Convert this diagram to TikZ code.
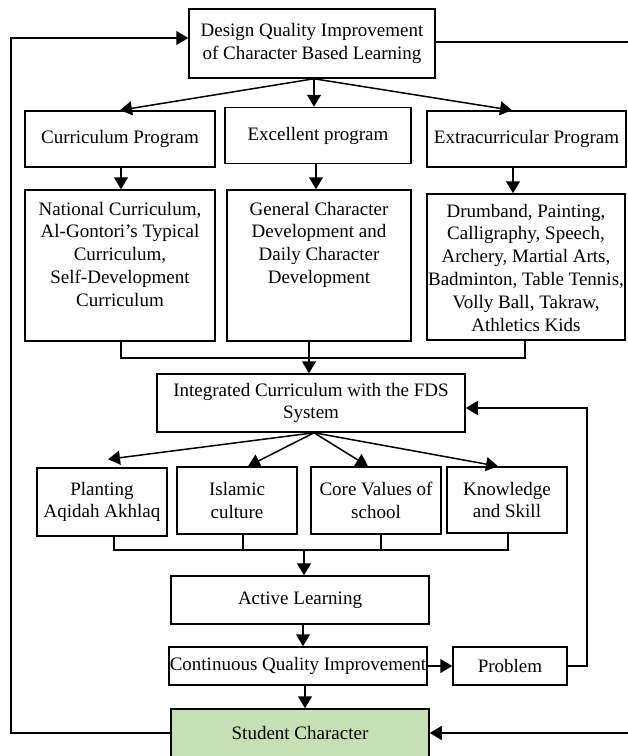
\documentclass[tikz,border=0pt]{standalone}
\usepackage{fontspec}
\setmainfont{Liberation Serif}
\usepackage{xcolor}
\usetikzlibrary{arrows.meta,positioning,calc}
\definecolor{leafgreen}{RGB}{197,224,180}

\begin{document}
\begin{tikzpicture}[
    x=1pt, y=-1pt,
    font=\fontsize{19pt}{22.8pt}\selectfont,
    >={Triangle[length=12pt,width=14pt]},
    line width=1.5pt,
    box/.style={
        draw=black,
        align=center,
        inner sep=0pt
    },
    topbox/.style={
        box,
        minimum width=246pt,
        minimum height=69pt
    },
    progbox/.style={
        box,
        minimum width=190pt,
        minimum height=56pt
    },
    valbox/.style={
        box,
        minimum width=125pt,
        minimum height=67pt
    },
    flowbox/.style={
        box,
        minimum width=258pt,
        minimum height=48pt
    },
    arr/.style={->}
]
\useasboundingbox (0,0) rectangle (628,756);

\node[topbox] (design) at (312,43.5)
{Design Quality Improvement\\of Character Based Learning};

\node[progbox] (curprog) at (120,139) {Curriculum Program};
\node[progbox, minimum width=186pt] (excprog) at (318,135.5) {Excellent program};
\node[progbox, minimum width=199pt] (extprog) at (526.5,139) {Extracurricular Program};

\node[box] (curdet) at (120,265.5)
{\parbox[c][151pt][t]{190pt}{\centering
\rule{0pt}{25pt}National Curriculum,\\
Al-Gontori's Typical\\
Curriculum,\\
Self-Development\\
Curriculum}};

\node[box] (excdet) at (319,265.5)
{\parbox[c][151pt][t]{184pt}{\centering
\rule{0pt}{25pt}General Character\\
Development and\\
Daily Character\\
Development}};

\node[box] (extdet) at (526,267)
{\parbox[c][146pt][t]{198pt}{\centering
\rule{0pt}{23pt}Drumband, Painting,\\
Calligraphy, Speech,\\
Archery, Martial Arts,\\
\makebox[\linewidth]{Badminton, Table Tennis,}\\
Volly Ball, Takraw,\\
Athletics Kids}};

\draw[arr] ([xshift=2pt]design.south) -- (curprog.north);
\draw[arr] ([xshift=2pt]design.south) -- ([xshift=-4pt]excprog.north);
\draw[arr] ([xshift=2pt]design.south) -- ([xshift=-14.5pt]extprog.north);

\draw[arr] ([xshift=1pt]curprog.south) -- ([xshift=1pt]curprog.south |- curdet.north);
\draw[arr] ([xshift=-2pt]excprog.south) -- ([xshift=-2pt]excprog.south |- excdet.north);
\draw[arr] ([xshift=-13.5pt]extprog.south) -- ([xshift=-13.5pt]extprog.south |- extdet.north);

\node[box, minimum width=308pt, minimum height=58pt] (integ) at (311,403)
{Integrated Curriculum with the FDS\\System};

% merge of the three programs
\coordinate (join1) at (309,358);
\draw ([xshift=1pt]curdet.south) |- (join1) -| ([xshift=-1pt]extdet.south);
\draw[arr] (join1 |- excdet.south) -- (join1 |- integ.north);

\node[valbox, minimum width=130pt, minimum height=68pt] (plant) at (102,502) {Planting\\Aqidah Akhlaq};
\node[valbox, minimum width=120pt] (islam) at (237,500.5) {Islamic\\culture};
\node[valbox, minimum width=130pt] (core) at (376,500.5) {Core Values of\\school};
\node[valbox, minimum width=120pt, minimum height=66pt] (know) at (507,500) {Knowledge\\and Skill};

\draw[arr] ([xshift=3pt]integ.south) -- ([xshift=6pt,yshift=8pt]plant.north);
\draw[arr] ([xshift=3pt]integ.south) -- ([xshift=11pt]islam.north);
\draw[arr] ([xshift=3pt]integ.south) -- ([xshift=-8pt]core.north);
\draw[arr] ([xshift=3pt]integ.south) -- ([xshift=-9pt]know.north);

\node[flowbox] (active) at (300,600) {Active Learning};
\node[flowbox, minimum height=38pt] (cqi) at (298,666) {Continuous Quality Improvement};
\node[box, minimum width=114pt, minimum height=38pt] (problem) at (510,666) {Problem};
\node[flowbox, fill=leafgreen] (student) at (300,733) {Student Character};

% merge of the four values
\coordinate (join2) at (304,550);
\draw ([xshift=12pt]plant.south) |- (join2) -| ([xshift=1pt]know.south);
\draw ([xshift=6pt]islam.south) |- (join2);
\draw ([xshift=5pt]core.south) |- (join2);
\draw[arr] (join2) -- (join2 |- active.north);

\draw[arr] ([xshift=3pt]active.south) -- ([xshift=3pt]active.south |- cqi.north);
\draw[arr] ([xshift=7pt]cqi.south) -- ([xshift=7pt]cqi.south |- student.north);
\draw[arr] (cqi) -- (problem);

% feedback loops
\coordinate (loopR) at (587,408);
\draw[arr] (problem.east) -| (loopR) -- ([yshift=-5pt]integ.east);

\coordinate (loopL) at (11,38);
\draw[arr] (student.west) -| (loopL) -- ([yshift=5.5pt]design.west);

\coordinate (edgeT) at (628,42);
\coordinate (edgeB) at (628,733);
\draw ([yshift=1.5pt]design.east) -- (edgeT);
\draw[arr] (edgeB) -- (student.east);

\end{tikzpicture}
\end{document}
